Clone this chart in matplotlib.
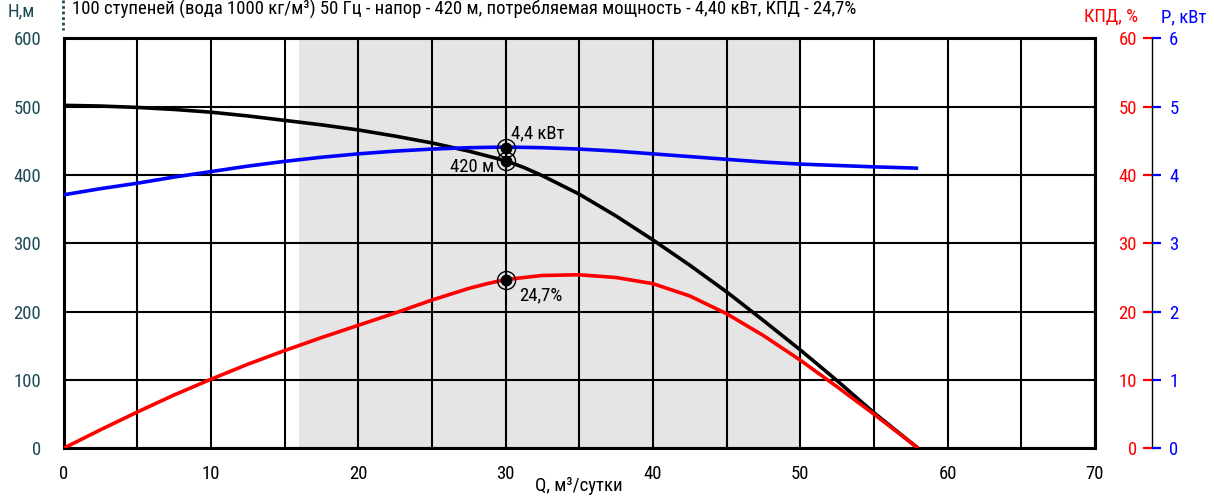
import matplotlib
matplotlib.use("Agg")
import matplotlib.pyplot as plt
from matplotlib.lines import Line2D

plt.rcParams['font.family'] = ['Roboto Condensed', 'Roboto', 'DejaVu Sans']

# Подача, м3/сутки
q = [0, 2.5, 5, 7.5, 10, 12.5, 15, 17.5, 20, 22.5, 25, 27.5, 28.75, 30, 31.25,
     32.5, 35, 37.5, 40, 42.5, 45, 47.5, 50, 52.5, 55, 58]
# Напор, м
head = [502, 501, 499, 496, 492, 486.5, 480, 473.5, 466, 457, 447, 435, 428, 421, 411,
        399, 372, 340, 305, 268, 229, 187, 144, 99, 52, 0]
# КПД, %
eff = [0, 2.7, 5.3, 7.8, 10.1, 12.3, 14.3, 16.2, 18.0, 19.8, 21.7, 23.4, 24.1, 24.7, 25.0,
       25.3, 25.4, 25.0, 24.1, 22.3, 19.7, 16.5, 12.9, 9.0, 5.0, 0]
# Потребляемая мощность, кВт
power = [3.71, 3.80, 3.88, 3.97, 4.05, 4.13, 4.20, 4.26, 4.31, 4.35, 4.38, 4.40, 4.405, 4.41, 4.405,
         4.40, 4.38, 4.35, 4.31, 4.27, 4.23, 4.19, 4.16, 4.14, 4.12, 4.10]

# Рабочая точка
q_op = 30
head_op = 420
power_op = 4.4
eff_op = 24.7

# Рабочий диапазон
q_min, q_max = 16, 50

title = "100 ступеней (вода 1000 кг/м³) 50 Гц - напор - 420 м, потребляемая мощность - 4,40 кВт, КПД - 24,7%"
teal = '#1d4b55'
fs = 13.5

fig = plt.figure(figsize=(12.14, 4.97), dpi=100)
L, B = 63.5 / 1214, (497 - 448.3) / 497
W, H = (1095 - 63.5) / 1214, (448.3 - 38.4) / 497
ax = fig.add_axes([L, B, W, H])

ax.axvspan(q_min, q_max, color='#e5e5e5', zorder=0.1, lw=0)
ax.set_xlim(0, 70)
ax.set_ylim(0, 600)
ax.set_xticks(range(0, 71, 10))
ax.set_xticks(range(0, 71, 5), minor=True)
ax.set_yticks(range(0, 601, 100))
ax.grid(True, which='both', color='black', lw=1.5)
ax.set_axisbelow(True)
for s in ax.spines.values():
    s.set_linewidth(2.2)
ax.tick_params(axis='both', which='both', length=0, labelsize=fs)
ax.tick_params(axis='y', colors=teal, pad=16)
ax.tick_params(axis='x', pad=12)
ax.set_xlabel("Q, м³/сутки", fontsize=fs, labelpad=-4)

line_kw = dict(lw=2.6, solid_capstyle='butt', solid_joinstyle='round')
ax.plot(q, head, color='black', zorder=3, **line_kw)

# КПД и мощность в своих масштабах на той же сетке
ax_eff = ax.twinx()
ax_eff.set_ylim(0, 60)
ax_eff.axis('off')
ax_eff.plot(q, eff, color='red', **line_kw)

ax_pw = ax.twinx()
ax_pw.set_ylim(0, 6)
ax_pw.axis('off')
ax_pw.plot(q, power, color='#0000ff', **line_kw)

def op_marker(a, x, y):
    a.plot(x, y, 'o', ms=13, mfc='none', mec='black', mew=1.0, zorder=5)
    a.plot(x, y, 'o', ms=7.5, color='black', zorder=5)

op_marker(ax, q_op, head_op)
op_marker(ax_pw, q_op, power_op)
op_marker(ax_eff, q_op, eff_op)

ax_pw.annotate("4,4 кВт", (q_op, power_op), xytext=(4, 10), textcoords='offset points',
               fontsize=fs, ha='left', va='center')
ax.annotate("420 м", (q_op, head_op), xytext=(-8, -4), textcoords='offset points',
            fontsize=fs, ha='right', va='center')
ax_eff.annotate("24,7%", (q_op, eff_op), xytext=(10, -11.5), textcoords='offset points',
                fontsize=fs, ha='left', va='center')

# Шкалы КПД и мощности справа
ra = fig.add_axes([1151.7 / 1214, B, 0.0001, H])
ra.patch.set_visible(False)
for side in ('top', 'bottom', 'right'):
    ra.spines[side].set_visible(False)
ra.spines['left'].set_linewidth(1.0)
ra.set_xticks([])
ra.set_ylim(0, 60)
ra.set_yticks(range(0, 61, 10))
ra.tick_params(axis='y', colors='red', length=6.5, width=1.6, pad=4, labelsize=fs)

rb = ra.twinx()
rb.patch.set_visible(False)
for s in rb.spines.values():
    s.set_visible(False)
rb.set_ylim(0, 6)
rb.set_yticks(range(0, 7))
rb.tick_params(axis='y', colors='#0000ff', length=6.5, width=1.6, pad=6, labelsize=fs)

fig.text(1138 / 1214, 1 - 17 / 497, "КПД, %", color='red', fontsize=fs, ha='right', va='center')
fig.text(1161 / 1214, 1 - 17 / 497, "P, кВт", color='#0000ff', fontsize=fs, ha='left', va='center')
fig.text(8 / 1214, 1 - 11 / 497, "Н,м", color=teal, fontsize=fs, ha='left', va='center')
fig.text(72 / 1214, 1 - 9 / 497, title, color='black', fontsize=fs, ha='left', va='center')
fig.add_artist(Line2D([63 / 1214, 63 / 1214], [1, 1 - 30 / 497], color=teal, lw=2,
                      dashes=(1, 1), transform=fig.transFigure))

fig.savefig("out.png", dpi=100)
